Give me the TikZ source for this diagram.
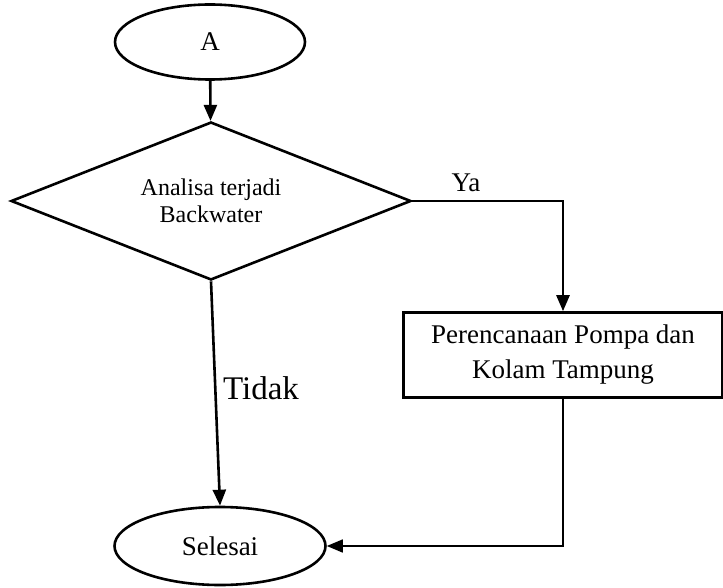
\documentclass[tikz,border=0pt]{standalone}
\usepackage{fontspec}
\setmainfont{Liberation Serif}
\usetikzlibrary{shapes.geometric,arrows.meta}

\begin{document}
\begin{tikzpicture}[x=0.5pt,y=-0.5pt,
  terminal/.style={draw,ellipse,line width=1.3pt,inner sep=0pt},
  decision/.style={draw,diamond,aspect=2.5,line width=1.3pt,inner sep=0pt,align=center},
  process/.style={draw,rectangle,line width=1.3pt,inner sep=0pt,align=center},
  flow/.style={line width=1.3pt,-{Triangle[length=8pt,width=6.5pt]}},
  txt/.style={font=\fontsize{13.5}{17.5}\selectfont}]

 \useasboundingbox (0,0) rectangle (723,588); % page size

 \node[terminal,txt,minimum width=95pt,minimum height=37.5pt] (start) at (210,42) {A};
 \node[decision,font=\fontsize{12}{13.5}\selectfont,minimum width=200pt,minimum height=79pt] (cek) at (211,201) {Analisa terjadi\\Backwater};
 \node[process,txt,minimum width=159.5pt,minimum height=42.5pt] (pompa) at (563,355) {Perencanaan Pompa dan\\Kolam Tampung};
 \node[terminal,txt,minimum width=105.5pt,minimum height=39pt] (selesai) at (220,546) {Selesai};

 \draw[flow] (start) -- (cek); % A to decision
 \draw[flow] (cek.east) -| (pompa.north); % Ya branch
 \draw[flow] (cek.south) -- (selesai.north); % Tidak branch
 \draw[flow,line width=0.8pt] (pompa.south) |- (selesai.east); % back to end

 \node[txt] (ya) at (466,183) {Ya};
 \node[font=\fontsize{16.5}{20}\selectfont] (tidak) at (261,388) {Tidak};

\end{tikzpicture}
\end{document}
